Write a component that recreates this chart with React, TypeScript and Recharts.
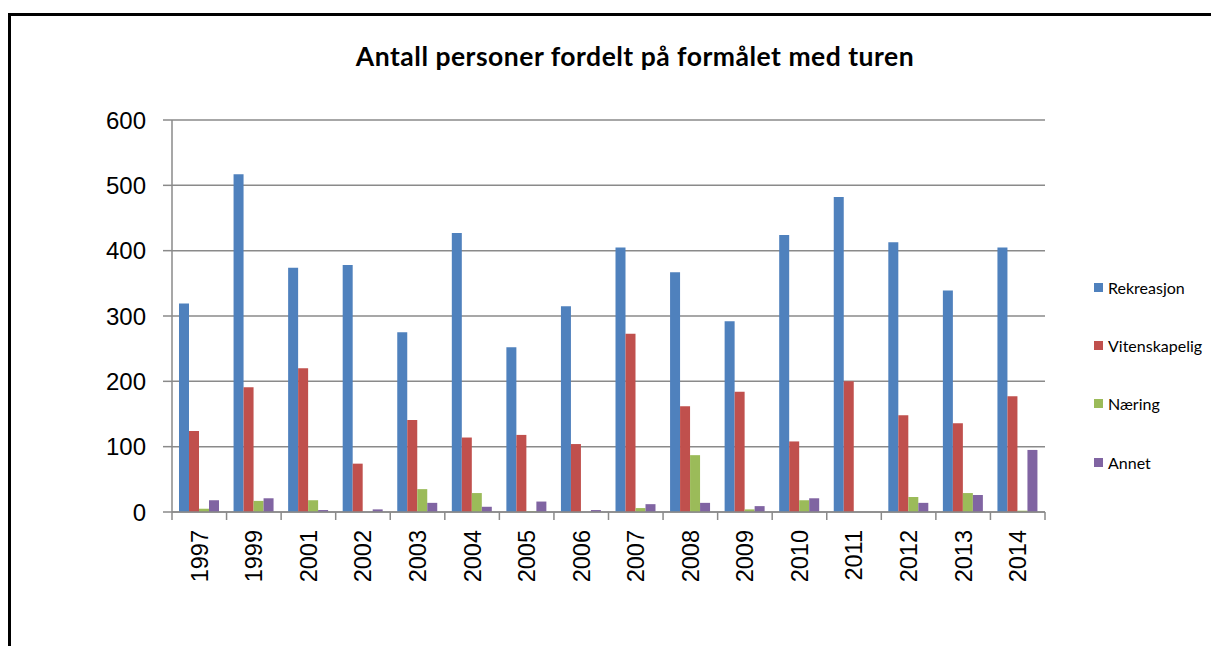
import {Bar, BarChart, CartesianGrid, Legend, XAxis, YAxis} from 'recharts'

const years = ['1997', '1999', '2001', '2002', '2003', '2004', '2005', '2006', '2007', '2008', '2009', '2010', '2011', '2012', '2013', '2014']
const rekreasjon = [319, 517, 374, 378, 275, 427, 252, 315, 405, 367, 292, 424, 482, 413, 339, 405]
const vitenskapelig = [124, 191, 220, 74, 141, 114, 118, 104, 273, 162, 184, 108, 200, 148, 136, 177]
const naering = [5, 17, 18, 0, 35, 29, 1, 0, 6, 87, 4, 18, 0, 23, 29, 2]
const annet = [18, 21, 3, 4, 14, 8, 16, 3, 12, 14, 9, 21, 0, 14, 26, 95]
const yTicks = [0, 100, 200, 300, 400, 500, 600]

const data = years.map((year, i) => ({
    year,
    Rekreasjon: rekreasjon[i],
    Vitenskapelig: vitenskapelig[i],
    Næring: naering[i],
    Annet: annet[i],
}))

const series = [
    {key: 'Rekreasjon', color: '#4F81BD'},
    {key: 'Vitenskapelig', color: '#C0504D'},
    {key: 'Næring', color: '#9BBB59'},
    {key: 'Annet', color: '#8064A2'},
]

const W = 1211
const H = 646
const legendWidth = 117
// legend box width gets added to the right offset by recharts
const margin = {top: 120, right: 166 - legendWidth, bottom: 64, left: 0}
const yAxisWidth = 172
const band = (W - margin.left - 166 - yAxisWidth) / years.length
const gridColor = '#8a8a8a'
const tickFont = '"Liberation Sans", Arial, sans-serif'
const textFont = 'Lato, "Open Sans", sans-serif'

const YearTick = (props: any) => {
    const {x, y, payload, index} = props
    const left = x - band / 2
    const right = x + band / 2
    return (
        <g>
            <line x1={left} x2={left} y1={y} y2={y + 8} stroke={gridColor} strokeWidth={1.5} />
            {index === years.length - 1 && (
                <line x1={right} x2={right} y1={y} y2={y + 8} stroke={gridColor} strokeWidth={1.5} />
            )}
            <text
                x={x}
                y={y + 18}
                dy="0.36em"
                textAnchor="end"
                transform={`rotate(-90, ${x}, ${y + 18})`}
                fontSize={23.5}
                fontFamily={tickFont}
                fill="#000"
            >
                {payload.value}
            </text>
        </g>
    )
}

const renderLegend = () => (
    <div style={{fontFamily: textFont, fontSize: 16}}>
        {series.map((s) => (
            <div key={s.key} style={{height: 58.3, display: 'flex', alignItems: 'center'}}>
                <span style={{width: 9, height: 9, background: s.color, display: 'inline-block', marginRight: 5}} />
                <span>{s.key}</span>
            </div>
        ))}
    </div>
)

const App = () => {
    return (
        <div style={{position: 'fixed', left: 0, top: 0, width: W, height: H, overflow: 'hidden', background: '#fff'}}>
            <div
                style={{
                    position: 'absolute',
                    left: 8,
                    top: 13,
                    width: 1300,
                    height: 700,
                    borderLeft: '3px solid #000',
                    borderTop: '3px solid #000',
                }}
            />
            <svg width={W} height={100} style={{position: 'absolute', left: 0, top: 0}}>
                <text
                    x={635}
                    y={66}
                    textAnchor="middle"
                    fontFamily={textFont}
                    fontWeight="bold"
                    fontSize={26.5}
                    letterSpacing={0.5}
                    fill="#000"
                >
                    Antall personer fordelt på formålet med turen
                </text>
            </svg>
            <div style={{position: 'absolute', left: 0, top: 0}}>
                <BarChart width={W} height={H} data={data} margin={margin} barGap={0} barSize={10}>
                    <CartesianGrid vertical={false} stroke={gridColor} strokeWidth={1.5} />
                    <XAxis
                        dataKey="year"
                        height={70}
                        axisLine={{stroke: gridColor, strokeWidth: 1.5}}
                        tickLine={false}
                        tickSize={0}
                        tickMargin={0}
                        interval={0}
                        tick={<YearTick />}
                    />
                    <YAxis
                        width={yAxisWidth}
                        domain={[0, 600]}
                        ticks={yTicks}
                        interval={0}
                        axisLine={{stroke: gridColor, strokeWidth: 1.5}}
                        tickLine={{stroke: gridColor, strokeWidth: 1.5}}
                        tickSize={9}
                        tickMargin={17}
                        tick={{fontSize: 24, fontFamily: tickFont, fill: '#000'}}
                    />
                    <Legend
                        layout="vertical"
                        align="right"
                        verticalAlign="top"
                        content={renderLegend}
                        wrapperStyle={{position: 'absolute', left: 1094, top: 258, width: legendWidth}}
                    />
                    {series.map((s) => (
                        <Bar key={s.key} dataKey={s.key} fill={s.color} isAnimationActive={false} />
                    ))}
                </BarChart>
            </div>
        </div>
    )
}

export default App
